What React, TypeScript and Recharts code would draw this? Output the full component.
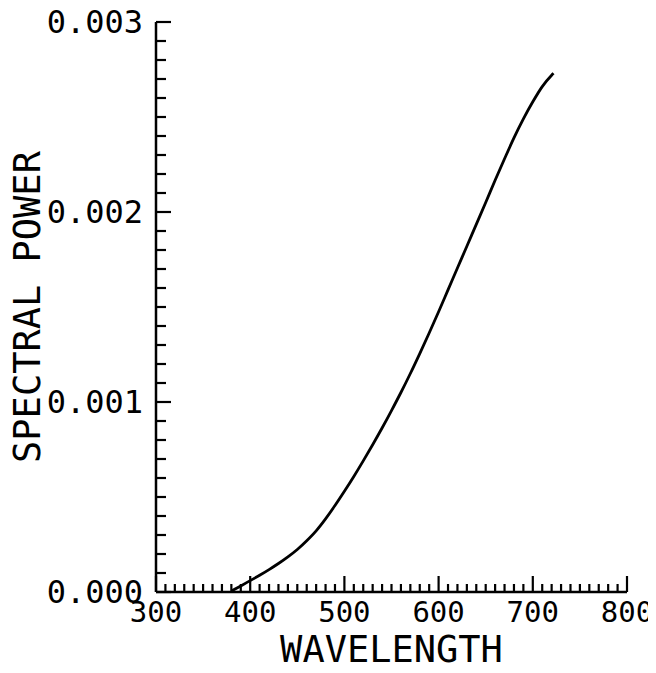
import React from 'react';
import { LineChart, Line, XAxis, YAxis } from 'recharts';

// wavelength (nm) and spectral power
const wavelengths = [380, 390, 400, 410, 420, 430, 440, 450, 460, 470, 480, 490, 500, 510, 520, 530, 540, 550, 560, 570, 580, 590, 600, 610, 620, 630, 640, 650, 660, 670, 680, 690, 700, 710, 720, 722];
const power = [0.000005, 0.000032, 0.00006, 0.000088, 0.000118, 0.00015, 0.000185, 0.000224, 0.00027, 0.000322, 0.000385, 0.000455, 0.00053, 0.000608, 0.00069, 0.000775, 0.000863, 0.000955, 0.00105, 0.00115, 0.001255, 0.001363, 0.001475, 0.00159, 0.001705, 0.00182, 0.001935, 0.00205, 0.002167, 0.00228, 0.00239, 0.00249, 0.00258, 0.00266, 0.00272, 0.00273];

const xMajor = [300, 400, 500, 600, 700, 800];
const yMajor = [0, 0.001, 0.002, 0.003];
// minor tick marks: every 10 nm and every 0.0001
const xMinor = Array.from({ length: 51 }, (_, i) => 300 + i * 10);
const yMinor = Array.from({ length: 31 }, (_, i) => i / 10000);

const data = wavelengths.map((w, i) => ({ w, p: power[i] }));

const FONT = '"DejaVu Sans Mono", monospace';

const XTick = (props: any) => {
  const { x, y, payload } = props;
  const major = xMajor.includes(payload.value);
  return (
    <g>
      <line x1={x} y1={y} x2={x} y2={y - (major ? 16 : 8)} stroke="#000" strokeWidth={2.2} />
      {major && (
        <text x={x} y={y + 20} textAnchor="middle" dominantBaseline="central" fontFamily={FONT} fontSize={29} fill="#000">
          {payload.value}
        </text>
      )}
    </g>
  );
};

const YTick = (props: any) => {
  const { x, y, payload } = props;
  const major = yMajor.some((m) => Math.abs(m - payload.value) < 1e-9);
  return (
    <g>
      <line x1={x} y1={y} x2={x + (major ? 15 : 10)} y2={y} stroke="#000" strokeWidth={2.2} />
      {major && (
        <text x={x - 13} y={y} textAnchor="end" dominantBaseline="central" fontFamily={FONT} fontSize={32} fill="#000">
          {payload.value.toFixed(3)}
        </text>
      )}
    </g>
  );
};

export default function App() {
  return (
    <div style={{ width: 648, height: 665, background: '#fff' }}>
      <LineChart width={648} height={665} data={data} margin={{ top: 14, right: 29, left: 0, bottom: 0 }}>
        <XAxis
          dataKey="w"
          type="number"
          domain={[300, 800]}
          ticks={xMinor}
          interval={0}
          tick={<XTick />}
          tickLine={false}
          tickSize={0}
          tickMargin={0}
          height={81}
          axisLine={{ stroke: '#000', strokeWidth: 2.5 }}
          label={{
            content: (p: any) => (
              <text x={p.viewBox.x + p.viewBox.width / 2} y={p.viewBox.y + 57} textAnchor="middle" dominantBaseline="central" fontFamily={FONT} fontSize={37} fill="#000">
                WAVELENGTH
              </text>
            ),
          }}
        />
        <YAxis
          type="number"
          domain={[0, 0.003]}
          ticks={yMinor}
          interval={0}
          tick={<YTick />}
          tickLine={false}
          tickSize={0}
          tickMargin={0}
          width={148}
          axisLine={{ stroke: '#000', strokeWidth: 2.5 }}
          label={{
            content: (p: any) => {
              const cx = p.viewBox.x + 19;
              const cy = p.viewBox.y + p.viewBox.height / 2;
              return (
                <text x={cx} y={cy} transform={`rotate(-90 ${cx} ${cy})`} textAnchor="middle" dominantBaseline="central" fontFamily={FONT} fontSize={37} fill="#000">
                  SPECTRAL POWER
                </text>
              );
            },
          }}
        />
        <Line type="monotone" dataKey="p" stroke="#000" strokeWidth={2.8} dot={false} isAnimationActive={false} />
      </LineChart>
    </div>
  );
}
